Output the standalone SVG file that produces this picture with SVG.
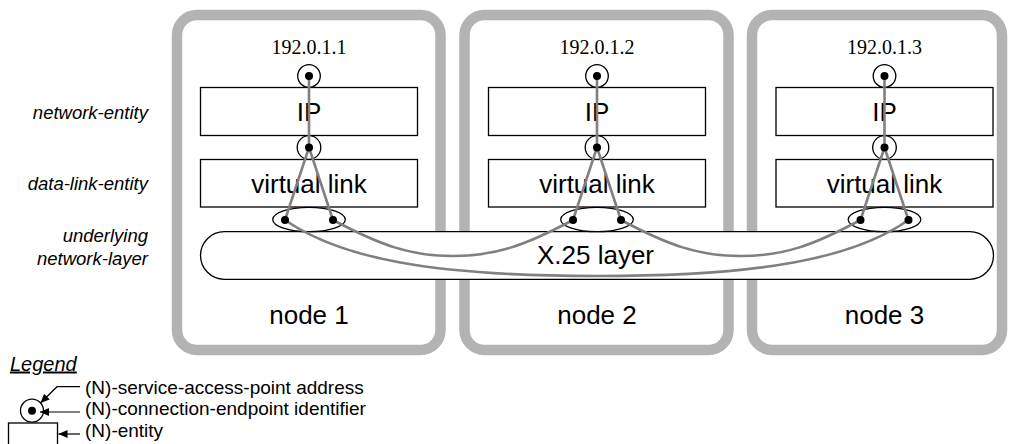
<svg xmlns="http://www.w3.org/2000/svg" width="1009" height="444" viewBox="0 0 1009 444">
<style>
.frame{fill:#fff;stroke:#b3b3b3;stroke-width:10.5}
.box{fill:#fff;stroke:#000;stroke-width:1.3}
.sap{fill:#fff;stroke:#000;stroke-width:1.3}
.dot{fill:#000}
.conn{fill:none;stroke:#808080;stroke-width:2.6}
.sans{font-family:"Liberation Sans",Arial,sans-serif;fill:#000}
.serif{font-family:"Liberation Serif","Times New Roman",serif;fill:#000}
.big{font-size:26px}
.addr{font-size:20px}
.lab{font-size:18.5px;font-style:italic}
.leg{font-size:19px}
.legline{fill:none;stroke:#000;stroke-width:1.2}
</style>
<defs>
<marker id="arr" markerWidth="10" markerHeight="8" refX="9" refY="4" orient="auto" markerUnits="userSpaceOnUse">
<path d="M0,0 L9,4 L0,8 z" fill="#000"/>
</marker>
</defs>

<g id="labels">
<text class="sans lab" x="148" y="119" text-anchor="end">network-entity</text>
<text class="sans lab" x="148" y="190" text-anchor="end">data-link-entity</text>
<text class="sans lab" x="148" y="242" text-anchor="end">underlying</text>
<text class="sans lab" x="148" y="265" text-anchor="end">network-layer</text>
</g>

<g id="node1">
<rect class="frame" x="177" y="15" width="263.5" height="335" rx="20"/>
<text class="sans big" x="309" y="324" text-anchor="middle">node 1</text>
<text class="serif addr" x="309" y="54" text-anchor="middle">192.0.1.1</text>
<rect class="box" x="200.5" y="87.5" width="217" height="48"/>
<text class="sans big" x="309" y="121" text-anchor="middle">IP</text>
<rect class="box" x="200.5" y="159.5" width="217" height="47.5"/>
<text class="sans big" x="309" y="193" text-anchor="middle">virtual link</text>
</g>

<g id="node2">
<rect class="frame" x="464.5" y="15" width="264" height="335" rx="20"/>
<text class="sans big" x="597" y="324" text-anchor="middle">node 2</text>
<text class="serif addr" x="597" y="54" text-anchor="middle">192.0.1.2</text>
<rect class="box" x="488.5" y="87.5" width="217" height="48"/>
<text class="sans big" x="597" y="121" text-anchor="middle">IP</text>
<rect class="box" x="488.5" y="159.5" width="217" height="47.5"/>
<text class="sans big" x="597" y="193" text-anchor="middle">virtual link</text>
</g>

<g id="node3">
<rect class="frame" x="752" y="15" width="250" height="335" rx="20"/>
<text class="sans big" x="884.5" y="324" text-anchor="middle">node 3</text>
<text class="serif addr" x="884.5" y="54" text-anchor="middle">192.0.1.3</text>
<rect class="box" x="776" y="87.5" width="217" height="48"/>
<text class="sans big" x="884.5" y="121" text-anchor="middle">IP</text>
<rect class="box" x="776" y="159.5" width="217" height="47.5"/>
<text class="sans big" x="884.5" y="193" text-anchor="middle">virtual link</text>
</g>

<g id="x25">
<rect class="box" x="200.5" y="231.7" width="793" height="47.6" rx="23.8"/>
<text class="sans big" x="595.5" y="264" text-anchor="middle">X.25 layer</text>
</g>

<g id="saps">
<circle class="sap" cx="309" cy="76" r="11.3"/>
<circle class="sap" cx="309" cy="147.5" r="11.8"/>
<ellipse class="sap" cx="309" cy="219.5" rx="36.3" ry="12.2"/>
<circle class="sap" cx="597" cy="76" r="11.3"/>
<circle class="sap" cx="597" cy="147.5" r="11.8"/>
<ellipse class="sap" cx="597" cy="219.5" rx="36.3" ry="12.2"/>
<circle class="sap" cx="884.5" cy="76" r="11.3"/>
<circle class="sap" cx="884.5" cy="147.5" r="11.8"/>
<ellipse class="sap" cx="884.5" cy="219.5" rx="36.3" ry="12.2"/>
</g>

<g id="connectors">
<path class="conn" d="M309,76 V147.5 M285,220 L309,147.5 L333,220"/>
<path class="conn" d="M597,76 V147.5 M573,220 L597,147.5 L621,220"/>
<path class="conn" d="M884.5,76 V147.5 M860.5,220 L884.5,147.5 L908.5,220"/>
<path class="conn" d="M333,220 C380,245 410,256 453,256 C496,256 526,245 573,220"/>
<path class="conn" d="M621,220 C668,245 698,256 741,256 C784,256 814,245 860.5,220"/>
<path class="conn" d="M285,220 C340,258 430,276 597,276 C764,276 854,258 908.5,220"/>
</g>

<g id="dots">
<circle class="dot" cx="309" cy="76" r="4"/>
<circle class="dot" cx="309" cy="147.5" r="4"/>
<circle class="dot" cx="285" cy="220" r="4"/>
<circle class="dot" cx="333" cy="220" r="4"/>
<circle class="dot" cx="597" cy="76" r="4"/>
<circle class="dot" cx="597" cy="147.5" r="4"/>
<circle class="dot" cx="573" cy="220" r="4"/>
<circle class="dot" cx="621" cy="220" r="4"/>
<circle class="dot" cx="884.5" cy="76" r="4"/>
<circle class="dot" cx="884.5" cy="147.5" r="4"/>
<circle class="dot" cx="860.5" cy="220" r="4"/>
<circle class="dot" cx="908.5" cy="220" r="4"/>
</g>

<g id="legend">
<text class="sans lab" x="10" y="370.5" style="font-size:20px;text-decoration:underline">Legend</text>
<rect class="box" x="8.5" y="423" width="49" height="30"/>
<circle class="sap" cx="32" cy="410.7" r="11.5"/>
<circle class="dot" cx="32" cy="410.7" r="4"/>
<path class="legline" d="M80,386.7 H57 L40.5,403" marker-end="url(#arr)"/>
<path class="legline" d="M80,412 H40" marker-end="url(#arr)"/>
<path class="legline" d="M80,434 H58.5" marker-end="url(#arr)"/>
<text class="sans leg" x="85" y="393.5">(N)-service-access-point address</text>
<text class="sans leg" x="85" y="415">(N)-connection-endpoint identifier</text>
<text class="sans leg" x="85" y="437">(N)-entity</text>
</g>
</svg>
